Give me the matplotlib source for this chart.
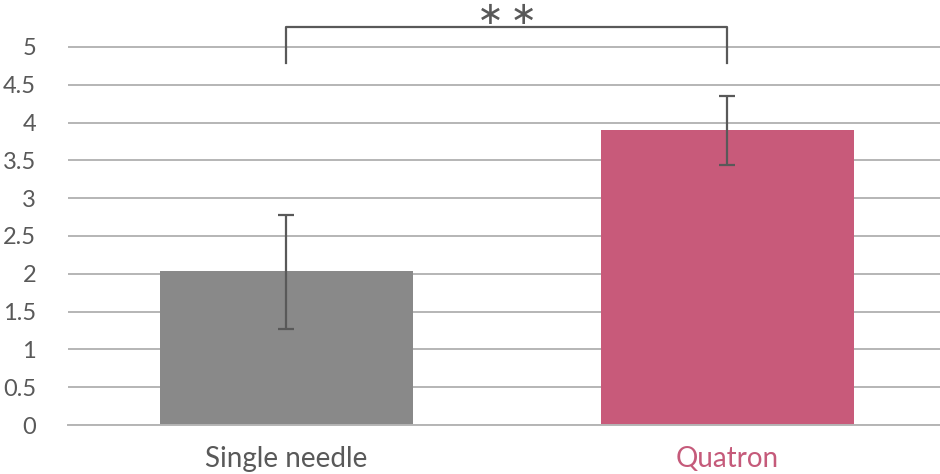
import matplotlib.pyplot as plt

# Data
groups = ["Single needle", "Quatron"]
means = [2.04, 3.90]
err_low = [0.77, 0.46]
err_high = [0.74, 0.45]
bar_colors = ["#898989", "#c85a7a"]
label_colors = ["#595959", "#c55a7a"]
yticks = [0, 0.5, 1, 1.5, 2, 2.5, 3, 3.5, 4, 4.5, 5]
ytick_labels = ["0", "0.5", "1", "1.5", "2", "2.5", "3", "3.5", "4", "4.5", "5"]
sig_label = "\u2217\u2009\u2217"

plt.rcParams['font.family'] = ['Lato', 'DejaVu Sans']

fig = plt.figure(figsize=(9.4, 4.74), dpi=100)
ax = fig.add_axes([68 / 940, 1 - 425 / 474, 1 - 68 / 940, 425 / 474])

x = range(len(groups))
ax.bar(x, means, width=0.574, color=bar_colors, zorder=2)
ax.errorbar(x, means, yerr=[err_low, err_high], fmt='none', ecolor='#595959',
            elinewidth=1.6, capsize=6, capthick=1.6, zorder=3)

ax.set_xlim(-0.495, 1.482)
ax.set_ylim(0, 5.62)
ax.set_yticks(yticks)
ax.set_yticklabels(ytick_labels)
ax.yaxis.grid(True, color='#b5b5b5', linewidth=1.4, zorder=0)
ax.set_axisbelow(True)
ax.tick_params(axis='y', length=0, pad=23, labelsize=17, labelcolor='#595959')
ax.tick_params(axis='x', length=0, pad=15, labelsize=20)
ax.set_xticks(list(x))
ax.set_xticklabels(groups)
for lbl, c in zip(ax.get_xticklabels(), label_colors):
    lbl.set_color(c)

for side in ['top', 'right', 'left']:
    ax.spines[side].set_visible(False)
ax.spines['bottom'].set_color('#b5b5b5')
ax.spines['bottom'].set_linewidth(1.4)

# significance bracket
y_top, y_leg = 5.26, 4.79
ax.plot([0, 0, 1, 1], [y_leg, y_top, y_top, y_leg], color='#595959',
        linewidth=1.6, clip_on=False, zorder=4)
ax.text(0.5, y_top + 0.15, sig_label, ha='center', va='center', fontsize=23,
        color='#595959', clip_on=False, family='DejaVu Sans')

plt.savefig('out.png', dpi=100)
